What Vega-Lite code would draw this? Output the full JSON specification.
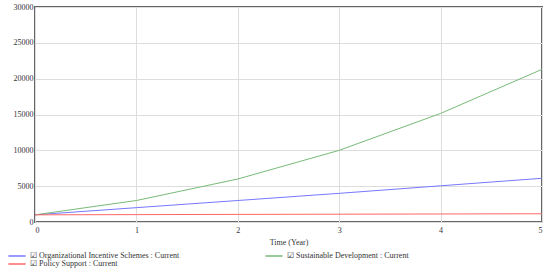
{
  "$schema": "https://vega.github.io/schema/vega-lite/v6.json",
  "width": 507,
  "height": 215,
  "autosize": {"type": "none"},
  "padding": {"left": 35, "top": 7, "right": 8, "bottom": 49},
  "background": "white",
  "config": {
    "font": "Liberation Serif",
    "view": {"stroke": "#666666", "strokeWidth": 2},
    "axis": {"labelFont": "Liberation Serif", "titleFont": "Liberation Serif", "labelFontSize": 8, "labelColor": "#333", "gridColor": "#dddddd", "domain": false, "ticks": false, "titleFontWeight": "normal", "titleFontSize": 8, "titleColor": "#333"}
  },
  "data": {"values": [
    {"t": 0, "s": "Organizational Incentive Schemes : Current", "v": 1000},
    {"t": 1, "s": "Organizational Incentive Schemes : Current", "v": 2000},
    {"t": 2, "s": "Organizational Incentive Schemes : Current", "v": 3000},
    {"t": 3, "s": "Organizational Incentive Schemes : Current", "v": 4000},
    {"t": 4, "s": "Organizational Incentive Schemes : Current", "v": 5050},
    {"t": 5, "s": "Organizational Incentive Schemes : Current", "v": 6100},
    {"t": 0, "s": "Sustainable Development : Current", "v": 1000},
    {"t": 1, "s": "Sustainable Development : Current", "v": 3000},
    {"t": 2, "s": "Sustainable Development : Current", "v": 6000},
    {"t": 3, "s": "Sustainable Development : Current", "v": 10000},
    {"t": 4, "s": "Sustainable Development : Current", "v": 15150},
    {"t": 5, "s": "Sustainable Development : Current", "v": 21300},
    {"t": 0, "s": "Policy Support : Current", "v": 1000},
    {"t": 1, "s": "Policy Support : Current", "v": 1030},
    {"t": 2, "s": "Policy Support : Current", "v": 1060},
    {"t": 3, "s": "Policy Support : Current", "v": 1090},
    {"t": 4, "s": "Policy Support : Current", "v": 1120},
    {"t": 5, "s": "Policy Support : Current", "v": 1150}
  ]},
  "mark": {"type": "line", "strokeWidth": 1},
  "encoding": {
    "x": {"field": "t", "type": "quantitative", "scale": {"domain": [0, 5], "nice": false}, "axis": {"values": [0,1,2,3,4,5], "title": "Time (Year)", "labelPadding": 4, "titlePadding": 4}},
    "y": {"field": "v", "type": "quantitative", "scale": {"domain": [0, 30000], "nice": false}, "axis": {"values": [0,5000,10000,15000,20000,25000,30000], "format": "d", "title": null, "labelPadding": 2}},
    "color": {"field": "s", "type": "nominal",
      "scale": {"domain": ["Organizational Incentive Schemes : Current", "Policy Support : Current", "Sustainable Development : Current"], "range": ["#7777ff", "#ff6666", "#77bb77"]},
      "legend": {"orient": "none", "legendX": -22, "legendY": 245, "columns": 2, "columnPadding": 82, "rowPadding": 0, "title": null, "symbolType": "M-3,0H3", "symbolSize": 33, "symbolStrokeWidth": 1.5, "labelOffset": 9, "labelFontSize": 8, "labelColor": "#333", "labelFont": "Liberation Serif", "labelExpr": "'☑ ' + datum.label", "labelLimit": 300, "gridAlign": "each"}
    }
  }
}
